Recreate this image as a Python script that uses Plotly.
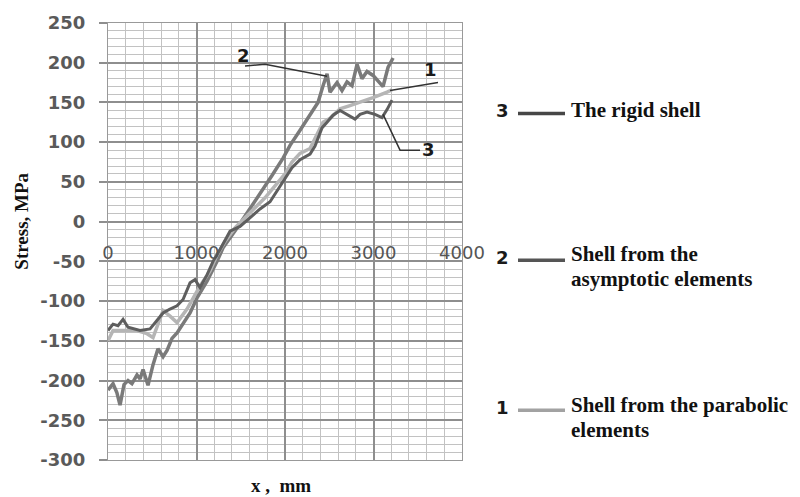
import plotly.graph_objects as go

# ---------------- data ----------------
# Series 2: shell from the asymptotic elements
x_asym = [0, 57, 100, 136, 181, 226, 271, 328, 362, 396, 452, 509, 565, 622, 667, 723, 780, 848,
          927, 1006, 1119, 1232, 1300, 1458, 1605, 1740, 1853, 1978, 2057, 2170, 2283, 2373, 2430,
          2475, 2509, 2543, 2588, 2644, 2701, 2757, 2814, 2870, 2927, 2995, 3074, 3108, 3164, 3221]
y_asym = [-212, -204, -215, -231, -205, -200, -204, -193, -198, -186, -206, -180, -160, -170, -162,
          -147, -140, -128, -115, -96, -75, -50, -33, -8, 16, 38, 58, 80, 96, 115, 134, 150, 171,
          186, 163, 168, 175, 165, 176, 171, 198, 180, 189, 184, 175, 170, 194, 206]

# Series 3: the rigid shell
x_rigid = [0, 57, 113, 170, 226, 283, 362, 475, 554, 622, 701, 780, 848, 927, 983, 1040, 1119, 1187,
           1266, 1379, 1492, 1605, 1718, 1831, 1944, 2079, 2170, 2283, 2339, 2418, 2475, 2543, 2622,
           2701, 2791, 2848, 2927, 3017, 3096, 3153, 3209]
y_rigid = [-137, -129, -131, -123, -133, -135, -137, -135, -125, -115, -110, -106, -98, -77, -73, -83,
           -67, -50, -35, -12, -6, 5, 16, 25, 45, 68, 78, 85, 95, 118, 125, 134, 140, 135, 129, 135,
           138, 135, 131, 141, 153]

# Series 1: shell from the parabolic elements
x_parab = [0, 57, 170, 328, 441, 509, 565, 622, 701, 780, 893, 961, 1040, 1153, 1232, 1322, 1435,
           1548, 1661, 1774, 1887, 2000, 2079, 2170, 2283, 2362, 2430, 2509, 2622, 2734, 2848, 2995,
           3153, 3209]
y_parab = [-150, -137, -137, -137, -141, -146, -129, -112, -119, -127, -110, -96, -81, -62, -42, -25,
           -8, 5, 18, 30, 45, 60, 75, 86, 92, 110, 125, 130, 142, 146, 150, 156, 163, 166]

x_ticks = [0, 1000, 2000, 3000, 4000]
x_ticktext = ["0", "1000", "2000", "3000", "4000"]
y_ticks = [250, 200, 150, 100, 50, 0, -50, -100, -150, -200, -250, -300]
y_ticktext = ["250", "200", "150", "100", "50", "0", "-50", "-100", "-150", "-200", "-250", "-300"]

# callout labels inside the plot (number, label position, leader path)
callouts = [
    ("2", (1526, 209), [(1548, 196), (1774, 198), (2475, 183)]),
    ("1", (3639, 191), [(3187, 165), (3729, 175)]),
    ("3", (3616, 91), [(3108, 135), (3300, 90), (3526, 90)]),
]

legend_items = [
    ("3", ["The rigid shell"], "#464646"),
    ("2", ["Shell from the", "asymptotic elements"], "#555555"),
    ("1", ["Shell from the parabolic", "elements"], "#a2a2a2"),
]

# ---------------- figure ----------------
W, H = 800, 497
L, R, T, B = 108, 338, 20, 37
PW, PH = W - L - R, H - T - B


def px(xp):
    return (xp - L) / PW


def py(yp):
    return (H - B - yp) / PH


fig = go.Figure()
fig.add_trace(go.Scatter(x=x_asym, y=y_asym, mode="lines",
                         line=dict(color="#7a7a7a", width=3.5), showlegend=False))
fig.add_trace(go.Scatter(x=x_parab, y=y_parab, mode="lines",
                         line=dict(color="#b5b5b5", width=3.5), showlegend=False))
fig.add_trace(go.Scatter(x=x_rigid, y=y_rigid, mode="lines",
                         line=dict(color="#5e5e5e", width=3), showlegend=False))
fig.add_trace(go.Scatter(x=[], y=[], xaxis="x2", showlegend=False))

shapes = []
annotations = []
for num, (lx, ly), path in callouts:
    d = "M " + " L ".join(f"{a},{b}" for a, b in path)
    shapes.append(dict(type="path", path=d, xref="x", yref="y",
                       line=dict(color="#333333", width=1.5)))
    annotations.append(dict(x=lx, y=ly, xref="x", yref="y", text=f"<b>{num}</b>",
                            showarrow=False, font=dict(family="DejaVu Sans", size=18, color="#1a1a1a")))

legend_y = [(108, [108]), (256, [253, 278]), (407, [405, 430])]
for (num, lines, col), (ly, tys) in zip(legend_items, legend_y):
    annotations.append(dict(x=px(502), y=py(ly), xref="paper", yref="paper", text=f"<b>{num}</b>",
                            showarrow=False, xanchor="center", yanchor="middle",
                            font=dict(family="DejaVu Sans", size=18, color="#1a1a1a")))
    shapes.append(dict(type="line", xref="paper", yref="paper", x0=px(518), x1=px(565),
                       y0=py(ly + 3), y1=py(ly + 3), line=dict(color=col, width=3.5)))
    for t, ty in zip(lines, tys):
        annotations.append(dict(x=px(569), y=py(ty), xref="paper", yref="paper", text=f"<b>{t}</b>",
                                showarrow=False, xanchor="left", yanchor="middle",
                                font=dict(family="Liberation Serif", size=21, color="#111111")))

annotations.append(dict(x=px(22), y=py(220), xref="paper", yref="paper", text="<b>Stress, MPa</b>",
                        textangle=-90, showarrow=False, xanchor="center", yanchor="middle",
                        font=dict(family="Liberation Serif", size=19, color="#111111")))
annotations.append(dict(x=px(281), y=py(486), xref="paper", yref="paper", text="<b>x ,  mm</b>",
                        showarrow=False, xanchor="center", yanchor="middle",
                        font=dict(family="Liberation Serif", size=19, color="#111111")))

fig.update_layout(
    width=W, height=H,
    margin=dict(l=L, r=R, t=T, b=B, pad=0),
    paper_bgcolor="white", plot_bgcolor="white",
    showlegend=False,
    xaxis=dict(range=[0, 4000], tickvals=x_ticks, showticklabels=False, ticks="",
               showgrid=True, gridcolor="#8e8e8e", gridwidth=1.5, zeroline=False,
               showline=True, mirror=True, linecolor="#999999", linewidth=1.3,
               minor=dict(dtick=200, tick0=0, showgrid=True, gridcolor="#c2c2c2", gridwidth=1)),
    xaxis2=dict(range=[0, 4000], overlaying="x", anchor="free", position=py(220), side="bottom",
                tickvals=x_ticks, ticktext=x_ticktext, showgrid=False, zeroline=False,
                showline=False, ticks="", ticklabelstandoff=18,
                tickfont=dict(family="DejaVu Sans", size=18, color="#555555")),
    yaxis=dict(range=[-300, 250], tickvals=y_ticks,
               ticktext=[t + "\u00a0\u2009" for t in y_ticktext],
               showgrid=True, gridcolor="#8e8e8e", gridwidth=1.5, zeroline=False,
               showline=True, mirror=True, linecolor="#999999", linewidth=1.3,
               ticks="outside", ticklen=8, tickcolor="#8e8e8e", tickwidth=1.5,
               tickfont=dict(family="DejaVu Sans", size=18, color="#5a5a5a", weight="bold"),
               minor=dict(dtick=10, tick0=0, showgrid=True, gridcolor="#c2c2c2", gridwidth=1)),
    shapes=shapes,
    annotations=annotations,
)

fig.write_html("out.html")
